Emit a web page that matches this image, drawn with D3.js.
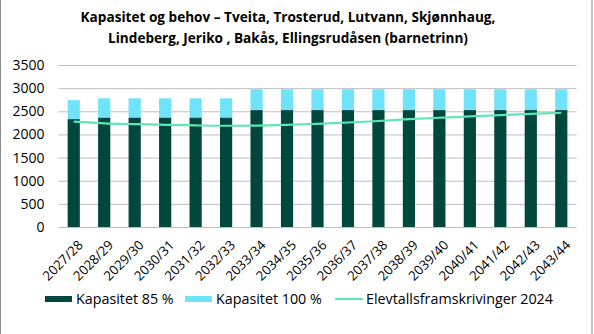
<!DOCTYPE html>
<html><head><meta charset="utf-8">
<script src="https://cdn.jsdelivr.net/npm/d3@7"></script>
<style>body{margin:0;background:#fff}svg{display:block;font-family:"Open Sans",sans-serif}</style>
</head><body><svg id="c" width="594" height="334"></svg>
<script>
const categories = ["2027/28","2028/29","2029/30","2030/31","2031/32","2032/33","2033/34","2034/35","2035/36","2036/37","2037/38","2038/39","2039/40","2040/41","2041/42","2042/43","2043/44"];
const kap85 = [2330,2360,2360,2360,2360,2360,2525,2525,2525,2525,2525,2525,2525,2525,2525,2525,2525];
const kap100 = [2740,2780,2780,2780,2780,2780,2975,2975,2975,2975,2975,2975,2975,2975,2975,2975,2975];
const elev = [2275,2240,2222,2208,2195,2187,2190,2205,2230,2258,2290,2330,2360,2390,2418,2442,2468];
const yTicks = [0,500,1000,1500,2000,2500,3000,3500];
const titleLines = ["Kapasitet og behov – Tveita, Trosterud, Lutvann, Skjønnhaug,","Lindeberg, Jeriko , Bakås, Ellingsrudåsen (barnetrinn)"];
const legendItems = [
  {label:"Kapasitet 85 %", type:"rect", color:"#00473E"},
  {label:"Kapasitet 100 %", type:"rect", color:"#6FE3FA"},
  {label:"Elevtallsframskrivinger 2024", type:"line", color:"#5EE6B4"}
];

const svg = d3.select("#c");
const L = 58.5, R = 576.5, T = 65, B = 227;
const x = d3.scaleBand().domain(categories).range([L,R]).paddingInner(0.6).paddingOuter(0.3);
const y = d3.scaleLinear().domain([0,3500]).range([B,T]);

// border
svg.append("line").attr("x1",0.5).attr("x2",0.5).attr("y1",0).attr("y2",334).attr("stroke","#8a8a8a");
svg.append("line").attr("x1",592).attr("x2",592).attr("y1",0).attr("y2",334).attr("stroke","#8a8a8a");

// title
svg.append("g").selectAll("text").data(titleLines).join("text")
  .attr("x",288).attr("y",(d,i)=>22+i*21).attr("text-anchor","middle")
  .attr("font-size",13.6).attr("font-weight","bold").attr("fill","#000").text(d=>d);

// grid
const yAxis = d3.axisLeft(y).tickValues(yTicks).tickFormat(d3.format("d")).tickSize(-(R-L)).tickPadding(14);
const gy = svg.append("g").attr("transform",`translate(${L},0)`).call(yAxis);
gy.select(".domain").remove();
gy.selectAll(".tick line").attr("stroke","#bfbfbf").attr("stroke-width",1);
gy.selectAll(".tick text").attr("font-size",14).attr("fill","#000").attr("font-family","Open Sans");

// bars
const bw = x.bandwidth();
svg.append("g").selectAll("rect").data(categories).join("rect")
  .attr("x",d=>x(d)).attr("width",bw)
  .attr("y",(d,i)=>y(kap100[i])).attr("height",(d,i)=>y(kap85[i])-y(kap100[i]))
  .attr("fill","#6FE3FA");
svg.append("g").selectAll("rect").data(categories).join("rect")
  .attr("x",d=>x(d)).attr("width",bw)
  .attr("y",(d,i)=>y(kap85[i])).attr("height",(d,i)=>y(0)-y(kap85[i]))
  .attr("fill","#00473E");

// line
const line = d3.line().x((d,i)=>x(categories[i])+bw/2).y(d=>y(d)).curve(d3.curveMonotoneX);
svg.append("path").datum(elev).attr("d",line).attr("fill","none").attr("stroke","#5EE6B4").attr("stroke-width",2.2);

// x axis labels
const xAxis = d3.axisBottom(x).tickSize(0).tickPadding(0);
const gx = svg.append("g").attr("transform",`translate(0,${B})`).call(xAxis);
gx.select(".domain").remove();
gx.selectAll(".tick text").attr("font-size",13.2).attr("fill","#000").attr("font-family","Open Sans")
  .attr("text-anchor","end").attr("dy",0)
  .attr("transform","translate(10,19) rotate(-45)");

// legend
const lg = svg.append("g");
const lx = [45, 185, 335];
legendItems.forEach((it,i)=>{
  const g = lg.append("g").attr("transform",`translate(${lx[i]},299)`);
  if(it.type==="rect") g.append("rect").attr("x",0).attr("y",-3).attr("width",27).attr("height",6).attr("fill",it.color);
  else g.append("line").attr("x1",0).attr("x2",28).attr("y1",0).attr("y2",0).attr("stroke",it.color).attr("stroke-width",2.2);
  g.append("text").attr("x",31).attr("y",5).attr("font-size",14.3).attr("fill","#000").text(it.label);
});
</script></body></html>
